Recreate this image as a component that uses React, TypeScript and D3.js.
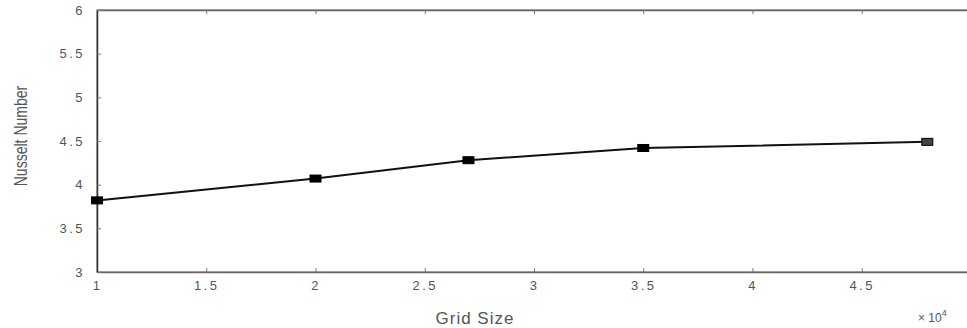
import * as d3 from "d3";
import React, { useEffect, useRef } from "react";

// grid size in units of 10^4
const gridSize = [1.0, 2.0, 2.7, 3.5, 4.8];
const nusselt = [3.82, 4.07, 4.28, 4.42, 4.49];
const xTicks = [1, 1.5, 2, 2.5, 3, 3.5, 4, 4.5, 5];
const yTicks = [3, 3.5, 4, 4.5, 5, 5.5, 6];

export default function App() {
  const ref = useRef<SVGSVGElement | null>(null);

  useEffect(() => {
    const width = 967;
    const height = 328;
    const margin = { top: 10, right: -4, bottom: 56, left: 97 };
    const svg = d3.select(ref.current);
    svg.selectAll("*").remove();

    const x = d3.scaleLinear().domain([1, 5]).range([margin.left, width - margin.right]);
    const y = d3.scaleLinear().domain([3, 6]).range([height - margin.bottom, margin.top]);

    const font = "Liberation Sans, Arial, sans-serif";
    const axisColor = "#555";

    // frame
    svg
      .append("rect")
      .attr("x", x(1))
      .attr("y", y(6))
      .attr("width", x(5) - x(1))
      .attr("height", y(3) - y(6))
      .attr("fill", "none")
      .attr("stroke", "#888")
      .attr("stroke-width", 1.3);

    const bottom = svg
      .append("g")
      .attr("transform", `translate(0,${y(3)})`)
      .call(d3.axisBottom(x).tickValues(xTicks).tickSizeInner(-4).tickSizeOuter(0).tickPadding(9).tickFormat(d3.format("")) as any);
    const top = svg
      .append("g")
      .attr("transform", `translate(0,${y(6)})`)
      .call(d3.axisTop(x).tickValues(xTicks).tickSizeInner(-4).tickSizeOuter(0).tickFormat(() => "") as any);
    const left = svg
      .append("g")
      .attr("transform", `translate(${x(1)},0)`)
      .call(d3.axisLeft(y).tickValues(yTicks).tickSizeInner(-4).tickSizeOuter(0).tickPadding(12).tickFormat(d3.format("")) as any);
    const right = svg
      .append("g")
      .attr("transform", `translate(${x(5)},0)`)
      .call(d3.axisRight(y).tickValues(yTicks).tickSizeInner(-4).tickSizeOuter(0).tickFormat(() => "") as any);

    [bottom, top, left, right].forEach((g) => {
      g.select(".domain").attr("stroke", "#666").attr("stroke-width", 1.3);
      g.selectAll(".tick line").attr("stroke", "#777");
      g.selectAll("text")
        .attr("fill", axisColor)
        .attr("font-family", font)
        .attr("font-size", 13)
        .attr("letter-spacing", 2.5);
    });
    left.select(".domain").attr("stroke", "#333").attr("stroke-width", 1.5);

    const pts = gridSize.map((g, i) => [g, nusselt[i]] as [number, number]);
    const line = d3
      .line<[number, number]>()
      .x((d) => x(d[0]))
      .y((d) => y(d[1]));

    svg
      .append("path")
      .datum(pts)
      .attr("d", line)
      .attr("fill", "none")
      .attr("stroke", "#111")
      .attr("stroke-width", 2);

    svg
      .selectAll("rect.marker")
      .data(pts)
      .enter()
      .append("rect")
      .attr("class", "marker")
      .attr("x", (d) => x(d[0]) - 5.5)
      .attr("y", (d) => y(d[1]) - 3.5)
      .attr("width", 11)
      .attr("height", 7)
      .attr("fill", (d, i) => (i === pts.length - 1 ? "#444" : "#000"))
      .attr("stroke", "#000")
      .attr("stroke-width", 1);

    svg
      .append("text")
      .text("Grid Size")
      .attr("x", 475)
      .attr("y", 324)
      .attr("text-anchor", "middle")
      .attr("fill", axisColor)
      .attr("font-family", font)
      .attr("font-size", 17)
      .attr("letter-spacing", 1);

    const exp = svg
      .append("text")
      .attr("x", 918)
      .attr("y", 322)
      .attr("fill", axisColor)
      .attr("font-family", font)
      .attr("font-size", 12);
    exp.append("tspan").text("× 10");
    exp.append("tspan").text("4").attr("dy", -6).attr("font-size", 9);

    svg
      .append("text")
      .text("Nusselt Number")
      .attr("transform", `translate(27,${(y(3) + y(6)) / 2 - 5}) rotate(-90) scale(0.78,1)`)
      .attr("text-anchor", "middle")
      .attr("fill", axisColor)
      .attr("font-family", font)
      .attr("font-size", 18);
  }, []);

  return (
    <svg
      ref={ref}
      width={967}
      height={328}
      style={{ position: "absolute", left: 0, top: 0, background: "#fff" }}
    />
  );
}
